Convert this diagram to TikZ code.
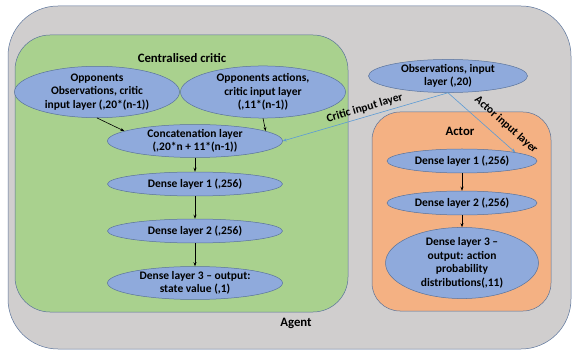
\documentclass[tikz,border=0pt]{standalone}
\usepackage{fontspec}
\setmainfont{Carlito}
\definecolor{agentgray}{RGB}{208,206,206}
\definecolor{criticgreen}{RGB}{169,209,142}
\definecolor{actororange}{RGB}{244,177,131}
\definecolor{layerblue}{RGB}{143,170,220}
\definecolor{edgeblue}{RGB}{90,115,155}
\definecolor{inputblue}{RGB}{91,155,213}
\usetikzlibrary{shapes.geometric,arrows.meta}

\begin{document}
\begin{tikzpicture}[x=1pt,y=-1pt,
    layer/.style={ellipse, draw=edgeblue, line width=0.5pt, fill=layerblue,
        align=center, inner sep=0pt, font=\bfseries\fontsize{11.5}{13.5}\selectfont},
    boxtitle/.style={font=\bfseries\fontsize{12.8}{14}\selectfont},
    flow/.style={-{Stealth[length=4pt,width=3pt]}, line width=0.6pt},
    feed/.style={-{Stealth[length=4pt,width=3pt]}, inputblue, line width=0.6pt},
    feedlabel/.style={sloped, font=\bfseries\fontsize{11.5}{13}\selectfont}]
    \useasboundingbox (0,0) rectangle (572,352);

    % Containers
    \draw[fill=agentgray, draw=edgeblue, line width=0.5pt, rounded corners=50] (8,6) rectangle (571,349);
    \draw[fill=criticgreen, draw=edgeblue, line width=0.5pt, rounded corners=35] (15,35) rectangle (348,312);
    \draw[fill=actororange, draw=edgeblue, line width=0.5pt, rounded corners=28] (372,112) rectangle (551,311);
    \node[boxtitle] (critictitle) at (182,58) {Centralised critic};
    \node[boxtitle] (actortitle) at (460,131) {Actor};
    \node[boxtitle] (agenttitle) at (296,323) {Agent};

    % Critic layers
    \node[layer, minimum width=165pt, minimum height=49pt] (oppobs) at (97,92) {Opponents\\Observations, critic\\input layer (,20*(n-1))};
    \node[layer, minimum width=165pt, minimum height=49pt] (oppact) at (263,92) {Opponents actions,\\critic input layer\\(,11*(n-1))};
    \node[layer, minimum width=175pt, minimum height=25pt] (concat) at (195,141) {Concatenation layer\\(,20*n + 11*(n-1))};
    \node[layer, minimum width=175pt, minimum height=24pt] (cdense1) at (195,184) {Dense layer 1 (,256)};
    \node[layer, minimum width=175pt, minimum height=24pt] (cdense2) at (195,231) {Dense layer 2 (,256)};
    \node[layer, minimum width=175pt, minimum height=32pt] (cdense3) at (195,283) {Dense layer 3 -- output:\\state value (,1)};

    \draw[flow] (oppobs.south) -- (concat.172);
    \draw[flow] (oppact.south) -- (concat.8);
    \draw[flow] (concat) -- (cdense1);
    \draw[flow] (cdense1) -- (cdense2);
    \draw[flow] (cdense2) -- (cdense3);

    % Actor layers
    \node[layer, minimum width=150pt, minimum height=24pt] (adense1) at (462,161) {Dense layer 1 (,256)};
    \node[layer, minimum width=150pt, minimum height=24pt] (adense2) at (462,203) {Dense layer 2 (,256)};
    \node[layer, minimum width=153pt, minimum height=60pt] (adense3) at (462,263) {Dense layer 3 --\\output: action\\probability\\distributions(,11)};

    \draw[flow] (adense1) -- (adense2);
    \draw[flow] (adense2) -- (adense3);

    % Shared input
    \node[layer, minimum width=159pt, minimum height=32pt] (obs) at (448,76) {Observations, input\\layer (,20)};
    \draw[feed] (obs.south) -- node[feedlabel, above=0pt, pos=0.49, text=black] {Critic input layer} (concat.east);
    \draw[feed] (obs.south) -- node[feedlabel, above=6pt, pos=0.72, text=black] {Actor input layer} (adense1.north east);
\end{tikzpicture}
\end{document}
